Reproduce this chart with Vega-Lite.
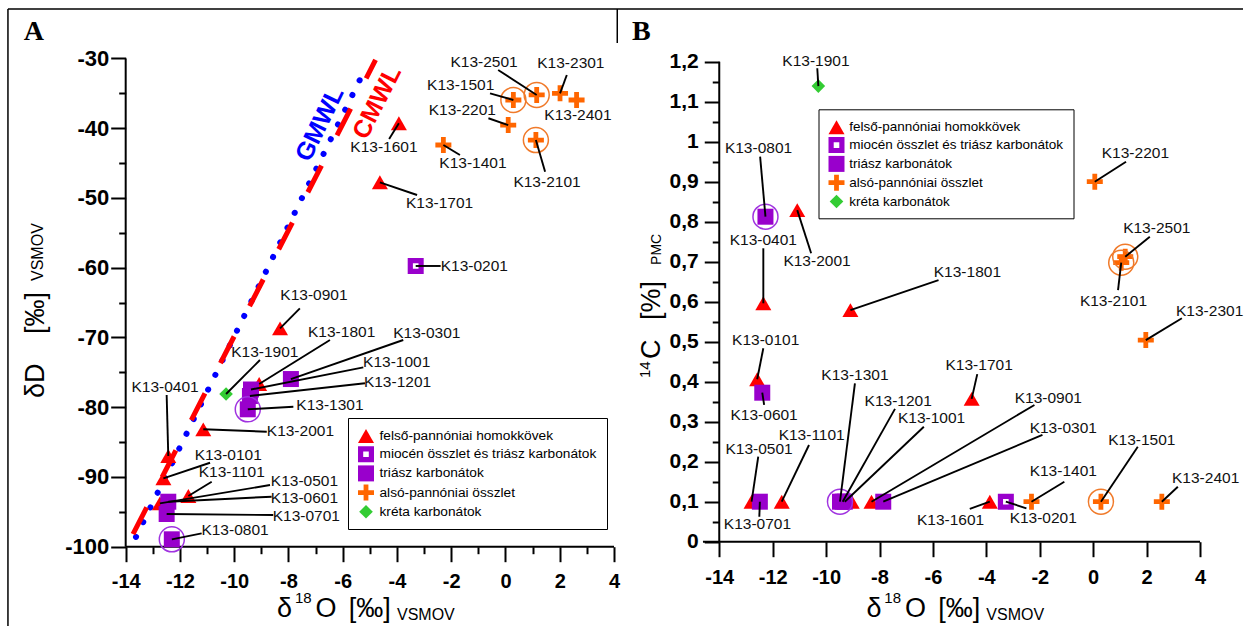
{
  "$schema": "https://vega.github.io/schema/vega-lite/v6.json",
  "background": "white",
  "padding": {"left": 7, "top": 8, "right": 0, "bottom": 0},
  "spacing": 0,
  "bounds": "flush",
  "config": {"view": {"stroke": null}, "font": "Liberation Sans"},
  "resolve": {"scale": {"color": "independent", "shape": "independent"}},
  "datasets": {
    "A": [
      {"n": "K13-0101", "g": "felső-pannóniai homokkövek", "x": -12.61, "y": -90.19, "lx": -10.22, "ly": -86.85, "ax": -10.89, "ay": -87.96},
      {"n": "K13-0401", "g": "felső-pannóniai homokkövek", "x": -12.43, "y": -87.0, "lx": -12.55, "ly": -77.06, "ax": -12.49, "ay": -78.25},
      {"n": "K13-0501", "g": "felső-pannóniai homokkövek", "x": -12.74, "y": -93.78, "lx": -7.41, "ly": -90.55, "ax": -8.68, "ay": -91.16},
      {"n": "K13-0901", "g": "felső-pannóniai homokkövek", "x": -8.31, "y": -68.69, "lx": -7.06, "ly": -63.91, "ax": -7.58, "ay": -65.82},
      {"n": "K13-1101", "g": "felső-pannóniai homokkövek", "x": -11.69, "y": -92.73, "lx": -10.09, "ly": -89.36, "ax": -10.83, "ay": -90.68},
      {"n": "K13-1601", "g": "felső-pannóniai homokkövek", "x": -3.93, "y": -39.29, "lx": -4.48, "ly": -42.69, "ax": -4.29, "ay": -41.54},
      {"n": "K13-1701", "g": "felső-pannóniai homokkövek", "x": -4.63, "y": -47.75, "lx": -2.43, "ly": -50.72, "ax": -3.26, "ay": -49.57},
      {"n": "K13-1801", "g": "felső-pannóniai homokkövek", "x": -9.08, "y": -76.67, "lx": -6.04, "ly": -69.17, "ax": -6.47, "ay": -70.36},
      {"n": "K13-2001", "g": "felső-pannóniai homokkövek", "x": -11.14, "y": -83.17, "lx": -7.56, "ly": -83.38, "ax": -8.8, "ay": -83.51},
      {"n": "K13-0201", "g": "miocén összlet és triász karbonátok", "x": -3.31, "y": -59.75, "lx": -1.15, "ly": -59.73, "ax": -2.39, "ay": -59.75},
      {"n": "K13-0301", "g": "triász karbonátok", "x": -7.91, "y": -75.96, "lx": -2.9, "ly": -69.29, "ax": -3.77, "ay": -70.36},
      {"n": "K13-0601", "g": "triász karbonátok", "x": -12.43, "y": -93.55, "lx": -7.41, "ly": -92.95, "ax": -8.62, "ay": -92.83},
      {"n": "K13-0701", "g": "triász karbonátok", "x": -12.49, "y": -95.31, "lx": -7.34, "ly": -95.57, "ax": -8.56, "ay": -95.46},
      {"n": "K13-0801", "g": "triász karbonátok", "x": -12.3, "y": -98.94, "lx": -9.97, "ly": -97.61, "ax": -11.2, "ay": -98.08, "ring": true},
      {"n": "K13-1001", "g": "triász karbonátok", "x": -9.38, "y": -77.46, "lx": -4.01, "ly": -73.48, "ax": -5.24, "ay": -74.28},
      {"n": "K13-1201", "g": "triász karbonátok", "x": -9.42, "y": -78.39, "lx": -3.98, "ly": -76.34, "ax": -5.18, "ay": -76.57},
      {"n": "K13-1301", "g": "triász karbonátok", "x": -9.5, "y": -80.3, "lx": -6.47, "ly": -79.68, "ax": -7.82, "ay": -79.93, "ring": true},
      {"n": "K13-1401", "g": "alsó-pannóniai összlet", "x": -2.29, "y": -42.4, "lx": -1.2, "ly": -45.03, "ax": -1.68, "ay": -43.84},
      {"n": "K13-1501", "g": "alsó-pannóniai összlet", "x": 0.29, "y": -35.95, "lx": -1.65, "ly": -33.8, "ax": -0.57, "ay": -34.99, "ring": true},
      {"n": "K13-2101", "g": "alsó-pannóniai összlet", "x": 1.12, "y": -41.69, "lx": 1.53, "ly": -47.78, "ax": 1.46, "ay": -46.23, "ring": true},
      {"n": "K13-2201", "g": "alsó-pannóniai összlet", "x": 0.1, "y": -39.54, "lx": -1.59, "ly": -37.38, "ax": -0.63, "ay": -38.57},
      {"n": "K13-2301", "g": "alsó-pannóniai összlet", "x": 2.01, "y": -34.99, "lx": 2.41, "ly": -30.69, "ax": 2.26, "ay": -32.37},
      {"n": "K13-2401", "g": "alsó-pannóniai összlet", "x": 2.62, "y": -35.95, "lx": 2.67, "ly": -38.1, "ax": 2.62, "ay": -35.95},
      {"n": "K13-2501", "g": "alsó-pannóniai összlet", "x": 1.15, "y": -35.23, "lx": -0.79, "ly": -30.46, "ax": -0.27, "ay": -31.65, "ring": true},
      {"n": "K13-1901", "g": "kréta karbonátok", "x": -10.3, "y": -78.11, "lx": -8.87, "ly": -72.04, "ax": -9.05, "ay": -73.23}
    ],
    "B": [
      {"n": "", "g": "felső-pannóniai homokkövek", "x": -9.04, "y": 0.1},
      {"n": "K13-0101", "g": "felső-pannóniai homokkövek", "x": -12.58, "y": 0.406, "lx": -12.26, "ly": 0.504, "ax": -12.35, "ay": 0.4835},
      {"n": "K13-0401", "g": "felső-pannóniai homokkövek", "x": -12.35, "y": 0.596, "lx": -12.35, "ly": 0.754, "ax": -12.35, "ay": 0.7335},
      {"n": "K13-0501", "g": "felső-pannóniai homokkövek", "x": -12.79, "y": 0.1, "lx": -12.51, "ly": 0.232, "ax": -12.54, "ay": 0.2125},
      {"n": "K13-0901", "g": "felső-pannóniai homokkövek", "x": -8.3, "y": 0.1, "lx": -1.68, "ly": 0.3605, "ax": -2.2, "ay": 0.3418},
      {"n": "K13-1101", "g": "felső-pannóniai homokkövek", "x": -11.66, "y": 0.1, "lx": -10.54, "ly": 0.2668, "ax": -10.64, "ay": 0.2418},
      {"n": "K13-1601", "g": "felső-pannóniai homokkövek", "x": -3.87, "y": 0.1, "lx": -5.34, "ly": 0.054, "ax": -4.62, "ay": 0.082},
      {"n": "K13-1701", "g": "felső-pannóniai homokkövek", "x": -4.55, "y": 0.357, "lx": -4.27, "ly": 0.442, "ax": -4.34, "ay": 0.419},
      {"n": "K13-1801", "g": "felső-pannóniai homokkövek", "x": -9.09, "y": 0.579, "lx": -4.71, "ly": 0.675, "ax": -5.79, "ay": 0.654},
      {"n": "K13-2001", "g": "felső-pannóniai homokkövek", "x": -11.08, "y": 0.829, "lx": -10.34, "ly": 0.702, "ax": -10.56, "ay": 0.721},
      {"n": "K13-0201", "g": "miocén összlet és triász karbonátok", "x": -3.27, "y": 0.1, "lx": -1.87, "ly": 0.0585, "ax": -2.5, "ay": 0.0835},
      {"n": "K13-0301", "g": "triász karbonátok", "x": -7.86, "y": 0.1, "lx": -1.12, "ly": 0.2855, "ax": -1.9, "ay": 0.2668},
      {"n": "K13-0601", "g": "triász karbonátok", "x": -12.39, "y": 0.3725, "lx": -12.32, "ly": 0.317, "ax": -12.32, "ay": 0.342},
      {"n": "K13-0701", "g": "triász karbonátok", "x": -12.48, "y": 0.1, "lx": -12.57, "ly": 0.044, "ax": -12.5, "ay": 0.0625},
      {"n": "K13-0801", "g": "triász karbonátok", "x": -12.27, "y": 0.8125, "lx": -12.53, "ly": 0.9855, "ax": -12.47, "ay": 0.9625, "ring": true},
      {"n": "K13-1001", "g": "triász karbonátok", "x": -9.3, "y": 0.1, "lx": -6.05, "ly": 0.3105, "ax": -6.34, "ay": 0.2875},
      {"n": "K13-1201", "g": "triász karbonátok", "x": -9.38, "y": 0.1, "lx": -7.3, "ly": 0.352, "ax": -7.42, "ay": 0.332},
      {"n": "K13-1301", "g": "triász karbonátok", "x": -9.48, "y": 0.1, "lx": -8.92, "ly": 0.417, "ax": -8.92, "ay": 0.396, "ring": true},
      {"n": "K13-1401", "g": "alsó-pannóniai összlet", "x": -2.31, "y": 0.1, "lx": -1.12, "ly": 0.177, "ax": -1.08, "ay": 0.15},
      {"n": "K13-1501", "g": "alsó-pannóniai összlet", "x": 0.29, "y": 0.1, "lx": 1.82, "ly": 0.254, "ax": 1.67, "ay": 0.2375, "ring": true},
      {"n": "K13-2101", "g": "alsó-pannóniai összlet", "x": 1.05, "y": 0.6975, "lx": 0.76, "ly": 0.602, "ax": 0.93, "ay": 0.629, "ring": true},
      {"n": "K13-2201", "g": "alsó-pannóniai összlet", "x": 0.06, "y": 0.9, "lx": 1.58, "ly": 0.971, "ax": 1.23, "ay": 0.95},
      {"n": "K13-2301", "g": "alsó-pannóniai összlet", "x": 1.97, "y": 0.504, "lx": 4.36, "ly": 0.577, "ax": 3.32, "ay": 0.5585},
      {"n": "K13-2401", "g": "alsó-pannóniai összlet", "x": 2.57, "y": 0.1, "lx": 4.21, "ly": 0.1585, "ax": 3.17, "ay": 0.1375},
      {"n": "K13-2501", "g": "alsó-pannóniai összlet", "x": 1.2, "y": 0.7125, "lx": 2.38, "ly": 0.7855, "ax": 2.12, "ay": 0.7625, "ring": true},
      {"n": "K13-1901", "g": "kréta karbonátok", "x": -10.29, "y": 1.139, "lx": -10.38, "ly": 1.202, "ax": -10.33, "ay": 1.1835}
    ],
    "mwl": [
      {"line": "GMWL", "x": -13.62, "y": -98.6},
      {"line": "GMWL", "x": -5.16, "y": -31.4},
      {"line": "CMWL", "x": -13.73, "y": -98.2},
      {"line": "CMWL", "x": -4.79, "y": -30.2}
    ]
  },
  "hconcat": [
    {
      "width": 611,
      "height": 618,
      "resolve": {"axis": {"x": "independent", "y": "independent"}},
      "layer": [
        {"data": {"values": [{}]}, "mark": {"type": "rule", "color": "#000", "strokeWidth": 2},
         "encoding": {
           "x": {"datum": -14, "type": "quantitative", "scale": {"domain": [-18.375, 4.147], "nice": false, "zero": false},
                 "axis": {"orient": "bottom", "offset": -79.3, "values": [-13, -11, -9, -7, -5, -3, -1, 1, 3], "labels": false, "domain": false, "grid": false, "tickSize": 7, "tickWidth": 2, "tickColor": "#000", "title": null}},
           "x2": {"datum": 4},
           "y": {"datum": -100, "type": "quantitative", "scale": {"domain": [-111.37, -22.76], "nice": false, "zero": false}, "axis": null}}},
        {"data": {"values": [{}]}, "mark": {"type": "rule", "color": "#000", "strokeWidth": 2},
         "encoding": {
           "x": {"datum": -14, "type": "quantitative", "axis": null},
           "y": {"datum": -100, "type": "quantitative",
                 "axis": {"orient": "left", "offset": -118.7, "values": [-35, -45, -55, -65, -75, -85, -95], "labels": false, "domain": false, "grid": false, "tickSize": 7, "tickWidth": 2, "tickColor": "#000", "title": null}},
           "y2": {"datum": -30}}},
        {"data": {"values": [{}]}, "mark": {"type": "rule", "color": "#000", "strokeWidth": 1.5},
         "encoding": {"x": {"datum": -18.34, "type": "quantitative", "axis": null}, "y": {"datum": -111.37, "type": "quantitative", "axis": null}, "y2": {"datum": -22.9}}},
        {"data": {"values": [{}]}, "mark": {"type": "rule", "color": "#000", "strokeWidth": 1.5},
         "encoding": {"x": {"datum": -18.34, "type": "quantitative", "axis": null}, "x2": {"datum": 4.147}, "y": {"datum": -22.9, "type": "quantitative", "axis": null}}},
        {"data": {"values": [{}]}, "mark": {"type": "rule", "color": "#000", "strokeWidth": 1.5},
         "encoding": {"x": {"datum": 4.12, "type": "quantitative", "axis": null}, "y": {"datum": -22.9, "type": "quantitative", "axis": null}, "y2": {"datum": -27.78}}},
        {"data": {"name": "mwl"}, "transform": [{"filter": "datum.line === 'GMWL'"}],
         "mark": {"type": "line", "color": "#0000ff", "strokeWidth": 6, "strokeDash": [0.1, 16.3], "strokeCap": "round"},
         "encoding": {"x": {"field": "x", "type": "quantitative", "axis": null}, "y": {"field": "y", "type": "quantitative", "axis": null}}},
        {"data": {"name": "mwl"}, "transform": [{"filter": "datum.line === 'CMWL'"}],
         "mark": {"type": "line", "color": "#ff0000", "strokeWidth": 5, "strokeDash": [30, 34], "strokeCap": "butt"},
         "encoding": {"x": {"field": "x", "type": "quantitative", "axis": null}, "y": {"field": "y", "type": "quantitative", "axis": null}}},
        {"data": {"values": [{}]}, "mark": {"type": "text", "text": "GMWL", "color": "#0000ff", "fontWeight": "bold", "fontSize": 25, "angle": -64, "align": "center", "baseline": "middle"},
         "encoding": {"x": {"datum": -6.85, "type": "quantitative", "axis": null}, "y": {"datum": -39.4, "type": "quantitative", "axis": null}}},
        {"data": {"values": [{}]}, "mark": {"type": "text", "text": "CMWL", "color": "#ff0000", "fontWeight": "bold", "fontSize": 25, "angle": -63, "align": "center", "baseline": "middle"},
         "encoding": {"x": {"datum": -4.74, "type": "quantitative", "axis": null}, "y": {"datum": -36.3, "type": "quantitative", "axis": null}}},
        {"data": {"name": "A"},
         "mark": {"type": "point", "filled": true, "opacity": 1, "size": 256, "strokeWidth": 0},
         "encoding": {
           "x": {"field": "x", "type": "quantitative", "scale": {"domain": [-18.375, 4.147], "nice": false, "zero": false},
                 "axis": {"orient": "bottom", "offset": -79.3, "values": [-14, -12, -10, -8, -6, -4, -2, 0, 2, 4], "labelExpr": "'' + datum.value", "domain": false, "grid": false, "tickSize": 15, "tickWidth": 2, "tickColor": "#000", "labelFont": "Liberation Sans", "labelFontWeight": "bold", "labelFontSize": 20, "labelColor": "#000", "labelPadding": 10, "labelFlush": false, "labelOverlap": false, "title": null}},
           "y": {"field": "y", "type": "quantitative", "scale": {"domain": [-111.37, -22.76], "nice": false, "zero": false},
                 "axis": {"orient": "left", "offset": -118.7, "values": [-30, -40, -50, -60, -70, -80, -90, -100], "labelExpr": "'' + datum.value", "domain": false, "grid": false, "tickSize": 15, "tickWidth": 2, "tickColor": "#000", "labelFont": "Liberation Sans", "labelFontWeight": "bold", "labelFontSize": 22, "labelColor": "#000", "labelPadding": 2, "labelFlush": false, "labelOverlap": false, "title": null}},
           "color": {"field": "g", "type": "nominal",
                     "scale": {"domain": ["felső-pannóniai homokkövek", "miocén összlet és triász karbonátok", "triász karbonátok", "alsó-pannóniai összlet", "kréta karbonátok"], "range": ["#ff0000", "#9900cc", "#9900cc", "#ff6600", "#33cc33"]},
                     "legend": {"orient": "none", "legendX": 341, "legendY": 410, "title": null, "strokeColor": "#000", "fillColor": "#fff", "padding": 10, "symbolSize": 256, "symbolStrokeWidth": 0, "symbolOpacity": 1, "labelFont": "Liberation Sans", "labelFontSize": 13.7, "labelColor": "#000", "labelOffset": 5.5, "rowPadding": 3.2, "labelLimit": 400}},
           "shape": {"field": "g", "type": "nominal",
                     "scale": {"domain": ["felső-pannóniai homokkövek", "miocén összlet és triász karbonátok", "triász karbonátok", "alsó-pannóniai összlet", "kréta karbonátok"], "range": ["triangle-up", "M-1,-1H1V1H-1ZM-0.35,-0.35V0.35H0.35V-0.35Z", "square", "M-1,-0.3H-0.3V-1H0.3V-0.3H1V0.3H0.3V1H-0.3V0.3H-1Z", "M0,-0.85L0.85,0L0,0.85L-0.85,0Z"]},
                     "legend": {"orient": "none", "legendX": 341, "legendY": 410, "title": null, "strokeColor": "#000", "fillColor": "#fff", "padding": 10, "symbolSize": 256, "symbolStrokeWidth": 0, "symbolOpacity": 1, "labelFont": "Liberation Sans", "labelFontSize": 13.7, "labelColor": "#000", "labelOffset": 5.5, "rowPadding": 3.2, "labelLimit": 400}}}},
        {"data": {"name": "A"}, "transform": [{"filter": "datum.ring"}],
         "mark": {"type": "point", "shape": "circle", "filled": false, "size": 625, "strokeWidth": 1.5, "opacity": 1},
         "encoding": {"x": {"field": "x", "type": "quantitative", "axis": null}, "y": {"field": "y", "type": "quantitative", "axis": null},
                      "stroke": {"condition": {"test": "datum.g === 'alsó-pannóniai összlet'", "value": "#f07a2a"}, "value": "#a033e0"}}},
        {"data": {"name": "A"}, "mark": {"type": "rule", "color": "#000", "strokeWidth": 1.9},
         "encoding": {"x": {"field": "ax", "type": "quantitative", "axis": null}, "y": {"field": "ay", "type": "quantitative", "axis": null}, "x2": {"field": "x"}, "y2": {"field": "y"}}},
        {"data": {"name": "A"}, "mark": {"type": "text", "fontSize": 15.5, "color": "#111", "align": "center", "baseline": "middle"},
         "encoding": {"x": {"field": "lx", "type": "quantitative", "axis": null}, "y": {"field": "ly", "type": "quantitative", "axis": null}, "text": {"field": "n"}}},
        {"data": {"values": [{}]}, "mark": {"type": "text", "text": "A", "font": "Liberation Serif", "fontWeight": "bold", "fontSize": 28, "align": "left", "baseline": "alphabetic", "color": "#000"},
         "encoding": {"x": {"datum": -17.76, "type": "quantitative", "axis": null}, "y": {"datum": -27.35, "type": "quantitative", "axis": null}}},
        {"data": {"values": [{}]}, "mark": {"type": "text", "text": "δD", "fontSize": 27, "angle": 270, "align": "left", "baseline": "alphabetic", "color": "#000"},
         "encoding": {"x": {"datum": -17.01, "type": "quantitative", "axis": null}, "y": {"datum": -78.68, "type": "quantitative", "axis": null}}},
        {"data": {"values": [{}]}, "mark": {"type": "text", "text": "[‰]", "fontSize": 27, "angle": 270, "align": "left", "baseline": "alphabetic", "color": "#000"},
         "encoding": {"x": {"datum": -17.01, "type": "quantitative", "axis": null}, "y": {"datum": -69.5, "type": "quantitative", "axis": null}}},
        {"data": {"values": [{}]}, "mark": {"type": "text", "text": "VSMOV", "fontSize": 16, "angle": 270, "align": "left", "baseline": "alphabetic", "color": "#000"},
         "encoding": {"x": {"datum": -17.05, "type": "quantitative", "axis": null}, "y": {"datum": -61.9, "type": "quantitative", "axis": null}}},
        {"data": {"values": [{}]}, "mark": {"type": "text", "text": "δ", "fontSize": 27, "align": "left", "baseline": "alphabetic", "color": "#000"},
         "encoding": {"x": {"datum": -8.42, "type": "quantitative", "axis": null}, "y": {"datum": -110.08, "type": "quantitative", "axis": null}}},
        {"data": {"values": [{}]}, "mark": {"type": "text", "text": "18", "fontSize": 15, "align": "left", "baseline": "alphabetic", "color": "#000"},
         "encoding": {"x": {"datum": -7.76, "type": "quantitative", "axis": null}, "y": {"datum": -108.08, "type": "quantitative", "axis": null}}},
        {"data": {"values": [{}]}, "mark": {"type": "text", "text": "O", "fontSize": 27, "align": "left", "baseline": "alphabetic", "color": "#000"},
         "encoding": {"x": {"datum": -7.0, "type": "quantitative", "axis": null}, "y": {"datum": -110.08, "type": "quantitative", "axis": null}}},
        {"data": {"values": [{}]}, "mark": {"type": "text", "text": "[‰]", "fontSize": 27, "align": "left", "baseline": "alphabetic", "color": "#000"},
         "encoding": {"x": {"datum": -5.78, "type": "quantitative", "axis": null}, "y": {"datum": -110.08, "type": "quantitative", "axis": null}}},
        {"data": {"values": [{}]}, "mark": {"type": "text", "text": "VSMOV", "fontSize": 16, "align": "left", "baseline": "alphabetic", "color": "#000"},
         "encoding": {"x": {"datum": -4.0, "type": "quantitative", "axis": null}, "y": {"datum": -110.51, "type": "quantitative", "axis": null}}}
      ]
    },
    {
      "width": 625,
      "height": 618,
      "resolve": {"axis": {"x": "independent", "y": "independent"}},
      "layer": [
        {"data": {"values": [{}]}, "mark": {"type": "rule", "color": "#000", "strokeWidth": 2},
         "encoding": {
           "x": {"datum": -14.61, "type": "quantitative", "scale": {"domain": [-17.791, 5.609], "nice": false, "zero": false}, "axis": null},
           "x2": {"datum": 4},
           "y": {"datum": 0, "type": "quantitative", "scale": {"domain": [-0.21075, 1.33425], "nice": false, "zero": false}, "axis": null}}},
        {"data": {"values": [{}]}, "mark": {"type": "rule", "color": "#000", "strokeWidth": 2},
         "encoding": {
           "x": {"datum": -14, "type": "quantitative", "axis": null},
           "y": {"datum": 0, "type": "quantitative",
                 "axis": {"orient": "left", "offset": -101.25, "values": [0.05, 0.15, 0.25, 0.35, 0.45, 0.55, 0.65, 0.75, 0.85, 0.95, 1.05, 1.15], "labels": false, "domain": false, "grid": false, "tickSize": 7, "tickWidth": 2, "tickColor": "#000", "title": null}},
           "y2": {"datum": 1.2}}},
        {"data": {"values": [{}]}, "mark": {"type": "rule", "color": "#000", "strokeWidth": 1.5},
         "encoding": {"x": {"datum": -17.791, "type": "quantitative", "axis": null}, "x2": {"datum": 5.609}, "y": {"datum": 1.3318, "type": "quantitative", "axis": null}}},
        {"data": {"name": "B"},
         "mark": {"type": "point", "filled": true, "opacity": 1, "size": 256, "strokeWidth": 0},
         "encoding": {
           "x": {"field": "x", "type": "quantitative", "scale": {"domain": [-17.791, 5.609], "nice": false, "zero": false},
                 "axis": {"orient": "bottom", "offset": -84.3, "values": [-14, -12, -10, -8, -6, -4, -2, 0, 2, 4], "labelExpr": "'' + datum.value", "domain": false, "grid": false, "tickSize": 15, "tickWidth": 2, "tickColor": "#000", "labelFont": "Liberation Sans", "labelFontWeight": "bold", "labelFontSize": 20, "labelColor": "#000", "labelPadding": 11, "labelFlush": false, "labelOverlap": false, "title": null}},
           "y": {"field": "y", "type": "quantitative", "scale": {"domain": [-0.21075, 1.33425], "nice": false, "zero": false},
                 "axis": {"orient": "left", "offset": -101.25, "values": [0, 0.1, 0.2, 0.3, 0.4, 0.5, 0.6, 0.7, 0.8, 0.9, 1, 1.1, 1.2], "labelExpr": "replace('' + datum.value, '.', ',')", "domain": false, "grid": false, "tickSize": 15, "tickWidth": 2, "tickColor": "#000", "labelFont": "Liberation Sans", "labelFontWeight": "bold", "labelFontSize": 21, "labelColor": "#000", "labelPadding": 6, "labelFlush": false, "labelOverlap": false, "title": null}},
           "color": {"field": "g", "type": "nominal",
                     "scale": {"domain": ["felső-pannóniai homokkövek", "miocén összlet és triász karbonátok", "triász karbonátok", "alsó-pannóniai összlet", "kréta karbonátok"], "range": ["#ff0000", "#9900cc", "#9900cc", "#ff6600", "#33cc33"]},
                     "legend": {"orient": "none", "legendX": 200.5, "legendY": 101.3, "title": null, "strokeColor": "#000", "fillColor": "#fff", "padding": 10, "symbolSize": 256, "symbolStrokeWidth": 0, "symbolOpacity": 1, "labelFont": "Liberation Sans", "labelFontSize": 13.5, "labelColor": "#000", "labelOffset": 4.7, "rowPadding": 2.8, "labelLimit": 400}},
           "shape": {"field": "g", "type": "nominal",
                     "scale": {"domain": ["felső-pannóniai homokkövek", "miocén összlet és triász karbonátok", "triász karbonátok", "alsó-pannóniai összlet", "kréta karbonátok"], "range": ["triangle-up", "M-1,-1H1V1H-1ZM-0.35,-0.35V0.35H0.35V-0.35Z", "square", "M-1,-0.3H-0.3V-1H0.3V-0.3H1V0.3H0.3V1H-0.3V0.3H-1Z", "M0,-0.85L0.85,0L0,0.85L-0.85,0Z"]},
                     "legend": {"orient": "none", "legendX": 200.5, "legendY": 101.3, "title": null, "strokeColor": "#000", "fillColor": "#fff", "padding": 10, "symbolSize": 256, "symbolStrokeWidth": 0, "symbolOpacity": 1, "labelFont": "Liberation Sans", "labelFontSize": 13.5, "labelColor": "#000", "labelOffset": 4.7, "rowPadding": 2.8, "labelLimit": 400}}}},
        {"data": {"name": "B"}, "transform": [{"filter": "datum.ring"}],
         "mark": {"type": "point", "shape": "circle", "filled": false, "size": 625, "strokeWidth": 1.5, "opacity": 1},
         "encoding": {"x": {"field": "x", "type": "quantitative", "axis": null}, "y": {"field": "y", "type": "quantitative", "axis": null},
                      "stroke": {"condition": {"test": "datum.g === 'alsó-pannóniai összlet'", "value": "#f07a2a"}, "value": "#a033e0"}}},
        {"data": {"name": "B"}, "transform": [{"filter": "datum.lx != null"}], "mark": {"type": "rule", "color": "#000", "strokeWidth": 1.9},
         "encoding": {"x": {"field": "ax", "type": "quantitative", "axis": null}, "y": {"field": "ay", "type": "quantitative", "axis": null}, "x2": {"field": "x"}, "y2": {"field": "y"}}},
        {"data": {"name": "B"}, "transform": [{"filter": "datum.lx != null"}], "mark": {"type": "text", "fontSize": 15.5, "color": "#111", "align": "center", "baseline": "middle"},
         "encoding": {"x": {"field": "lx", "type": "quantitative", "axis": null}, "y": {"field": "ly", "type": "quantitative", "axis": null}, "text": {"field": "n"}}},
        {"data": {"values": [{}]}, "mark": {"type": "text", "text": "B", "font": "Liberation Serif", "fontWeight": "bold", "fontSize": 28, "align": "left", "baseline": "alphabetic", "color": "#000"},
         "encoding": {"x": {"datum": -17.27, "type": "quantitative", "axis": null}, "y": {"datum": 1.254, "type": "quantitative", "axis": null}}},
        {"data": {"values": [{}]}, "mark": {"type": "text", "text": "14", "fontSize": 15, "angle": 270, "align": "left", "baseline": "alphabetic", "color": "#000"},
         "encoding": {"x": {"datum": -16.59, "type": "quantitative", "axis": null}, "y": {"datum": 0.409, "type": "quantitative", "axis": null}}},
        {"data": {"values": [{}]}, "mark": {"type": "text", "text": "C", "fontSize": 27, "angle": 270, "align": "left", "baseline": "alphabetic", "color": "#000"},
         "encoding": {"x": {"datum": -16.22, "type": "quantitative", "axis": null}, "y": {"datum": 0.457, "type": "quantitative", "axis": null}}},
        {"data": {"values": [{}]}, "mark": {"type": "text", "text": "[%]", "fontSize": 27, "angle": 270, "align": "left", "baseline": "alphabetic", "color": "#000"},
         "encoding": {"x": {"datum": -16.22, "type": "quantitative", "axis": null}, "y": {"datum": 0.554, "type": "quantitative", "axis": null}}},
        {"data": {"values": [{}]}, "mark": {"type": "text", "text": "PMC", "fontSize": 14, "angle": 270, "align": "left", "baseline": "alphabetic", "color": "#000"},
         "encoding": {"x": {"datum": -16.18, "type": "quantitative", "axis": null}, "y": {"datum": 0.692, "type": "quantitative", "axis": null}}},
        {"data": {"values": [{}]}, "mark": {"type": "text", "text": "δ", "fontSize": 27, "align": "left", "baseline": "alphabetic", "color": "#000"},
         "encoding": {"x": {"datum": -8.49, "type": "quantitative", "axis": null}, "y": {"datum": -0.188, "type": "quantitative", "axis": null}}},
        {"data": {"values": [{}]}, "mark": {"type": "text", "text": "18", "fontSize": 15, "align": "left", "baseline": "alphabetic", "color": "#000"},
         "encoding": {"x": {"datum": -7.82, "type": "quantitative", "axis": null}, "y": {"datum": -0.153, "type": "quantitative", "axis": null}}},
        {"data": {"values": [{}]}, "mark": {"type": "text", "text": "O", "fontSize": 27, "align": "left", "baseline": "alphabetic", "color": "#000"},
         "encoding": {"x": {"datum": -7.05, "type": "quantitative", "axis": null}, "y": {"datum": -0.188, "type": "quantitative", "axis": null}}},
        {"data": {"values": [{}]}, "mark": {"type": "text", "text": "[‰]", "fontSize": 27, "align": "left", "baseline": "alphabetic", "color": "#000"},
         "encoding": {"x": {"datum": -5.8, "type": "quantitative", "axis": null}, "y": {"datum": -0.188, "type": "quantitative", "axis": null}}},
        {"data": {"values": [{}]}, "mark": {"type": "text", "text": "VSMOV", "fontSize": 16, "align": "left", "baseline": "alphabetic", "color": "#000"},
         "encoding": {"x": {"datum": -4.0, "type": "quantitative", "axis": null}, "y": {"datum": -0.196, "type": "quantitative", "axis": null}}}
      ]
    }
  ]
}
